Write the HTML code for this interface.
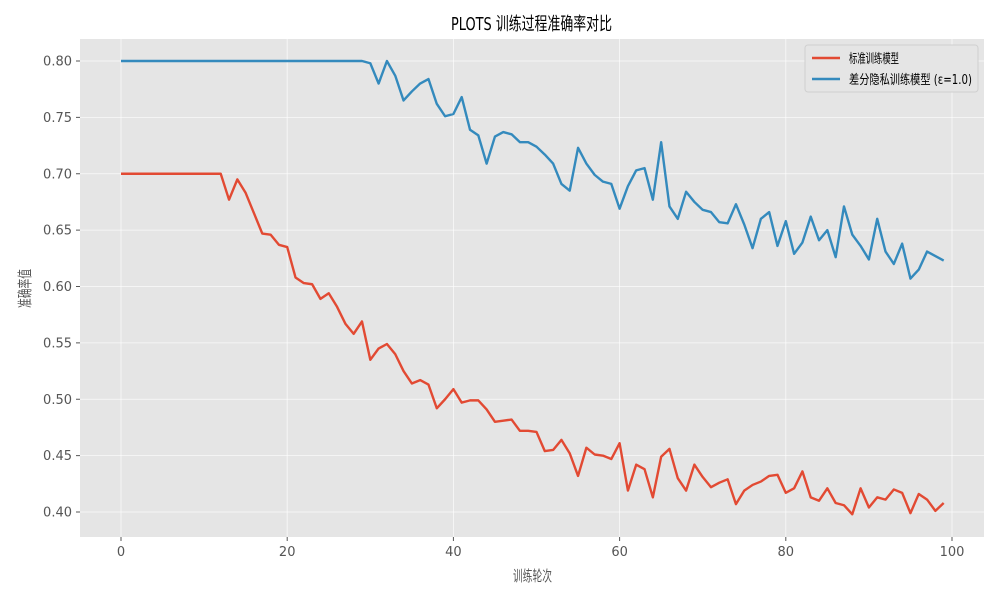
<!DOCTYPE html>
<html><head><meta charset="utf-8"><style>
body{margin:0;background:#fff;font-family:"Liberation Sans","DejaVu Sans","Noto Sans CJK SC",sans-serif}
svg{display:block}
</style></head><body>
<svg id="chart" width="1000" height="600" xmlns="http://www.w3.org/2000/svg" font-family="'DejaVu Sans','Liberation Sans','Noto Sans CJK SC',sans-serif">
<rect width="1000" height="600" fill="#fff"/>
<rect x="80" y="39" width="904" height="498" fill="#e5e5e5"/>
<g id="grid"></g>
<g id="ticks"></g>
<g id="series"></g>
<text x="451" y="30" font-size="18" textLength="161" lengthAdjust="spacingAndGlyphs" fill="#000">PLOTS 训练过程准确率对比</text>
<text x="513" y="581" font-size="15" textLength="39" lengthAdjust="spacingAndGlyphs" fill="#555">训练轮次</text>
<text transform="translate(30,308) rotate(-90)" font-size="15" textLength="39" lengthAdjust="spacingAndGlyphs" fill="#555">准确率值</text>
<g>
<rect x="805" y="45" width="173" height="47" rx="3" fill="#e5e5e5" stroke="#d0d0d0"/>
<line x1="812" y1="58" x2="840" y2="58" stroke="#e24a33" stroke-width="2.5"/>
<text x="849" y="63" font-size="13" textLength="50" lengthAdjust="spacingAndGlyphs" fill="#000">标准训练模型</text>
<line x1="812" y1="79" x2="840" y2="79" stroke="#348abd" stroke-width="2.5"/>
<text x="849" y="84" font-size="13" textLength="123" lengthAdjust="spacingAndGlyphs" fill="#000">差分隐私训练模型 (ε=1.0)</text>
</g>
</svg>
<script>
const redValues=[0.70,0.70,0.70,0.70,0.70,0.70,0.70,0.70,0.70,0.70,0.70,0.70,0.70,0.677,0.695,0.683,0.665,0.647,0.646,0.637,0.635,0.608,0.603,0.602,0.589,0.594,0.582,0.567,0.558,0.569,0.535,0.545,0.549,0.540,0.525,0.514,0.517,0.513,0.492,0.500,0.509,0.497,0.499,0.499,0.491,0.480,0.481,0.482,0.472,0.472,0.471,0.454,0.455,0.464,0.452,0.432,0.457,0.451,0.450,0.447,0.461,0.419,0.442,0.438,0.413,0.449,0.456,0.430,0.419,0.442,0.431,0.422,0.426,0.429,0.407,0.419,0.424,0.427,0.432,0.433,0.417,0.421,0.436,0.413,0.410,0.421,0.408,0.406,0.398,0.421,0.404,0.413,0.411,0.420,0.417,0.399,0.416,0.411,0.401,0.408];
const blueValues=[0.80,0.80,0.80,0.80,0.80,0.80,0.80,0.80,0.80,0.80,0.80,0.80,0.80,0.80,0.80,0.80,0.80,0.80,0.80,0.80,0.80,0.80,0.80,0.80,0.80,0.80,0.80,0.80,0.80,0.80,0.798,0.780,0.800,0.787,0.765,0.773,0.780,0.784,0.762,0.751,0.753,0.768,0.739,0.734,0.709,0.733,0.737,0.735,0.728,0.728,0.724,0.717,0.709,0.691,0.685,0.723,0.709,0.699,0.693,0.691,0.669,0.689,0.703,0.705,0.677,0.728,0.671,0.660,0.684,0.675,0.668,0.666,0.657,0.656,0.673,0.655,0.634,0.660,0.666,0.636,0.658,0.629,0.639,0.662,0.641,0.650,0.626,0.671,0.646,0.636,0.624,0.660,0.631,0.620,0.638,0.607,0.615,0.631,0.627,0.623];
const xTicks=[0,20,40,60,80,100];
const yTicks=[0.40,0.45,0.50,0.55,0.60,0.65,0.70,0.75,0.80];
const NS='http://www.w3.org/2000/svg';
const xs=v=>121+(952-121)*v/100;
const ys=v=>61+(0.80-v)*(512-61)/0.40;
const grid=document.getElementById('grid'),ticks=document.getElementById('ticks'),series=document.getElementById('series');
function mk(tag,attrs,parent){const e=document.createElementNS(NS,tag);for(const k in attrs)e.setAttribute(k,attrs[k]);parent.appendChild(e);return e;}
xTicks.forEach(t=>{
  const l=mk('line',{x1:xs(t),x2:xs(t),y1:39,y2:537,stroke:'#fff','stroke-width':0.8,opacity:0.8},grid);
  
  
  const tk=mk('line',{x1:xs(t),x2:xs(t),y1:537,y2:541,stroke:'#555'},ticks);
  
  
  const tx=mk('text',{x:xs(t),y:556,'font-size':13,'text-anchor':'middle',fill:'#555'},ticks);
  tx.textContent=String(t);
  
  
});
yTicks.forEach(t=>{
  const l=mk('line',{x1:80,x2:984,y1:ys(t),y2:ys(t),stroke:'#fff','stroke-width':0.8,opacity:0.8},grid);
  
  
  const tk=mk('line',{x1:76,x2:80,y1:ys(t),y2:ys(t),stroke:'#555'},ticks);
  
  
  const tx=mk('text',{x:72,y:ys(t)+4.5,'font-size':13,'text-anchor':'end',fill:'#555'},ticks);
  tx.textContent=t.toFixed(2);
  
  
});
function line(vals,color,name){
  const d=vals.map((v,i)=>(i?'L':'M')+xs(i).toFixed(2)+','+ys(v).toFixed(2)).join('');
  const p=mk('path',{d:d,fill:'none',stroke:color,'stroke-width':2.4,'stroke-linejoin':'round'},series);
  
  
}
line(redValues,'#e24a33','standard-line');
line(blueValues,'#348abd','dp-line');
</script>
</body></html>
